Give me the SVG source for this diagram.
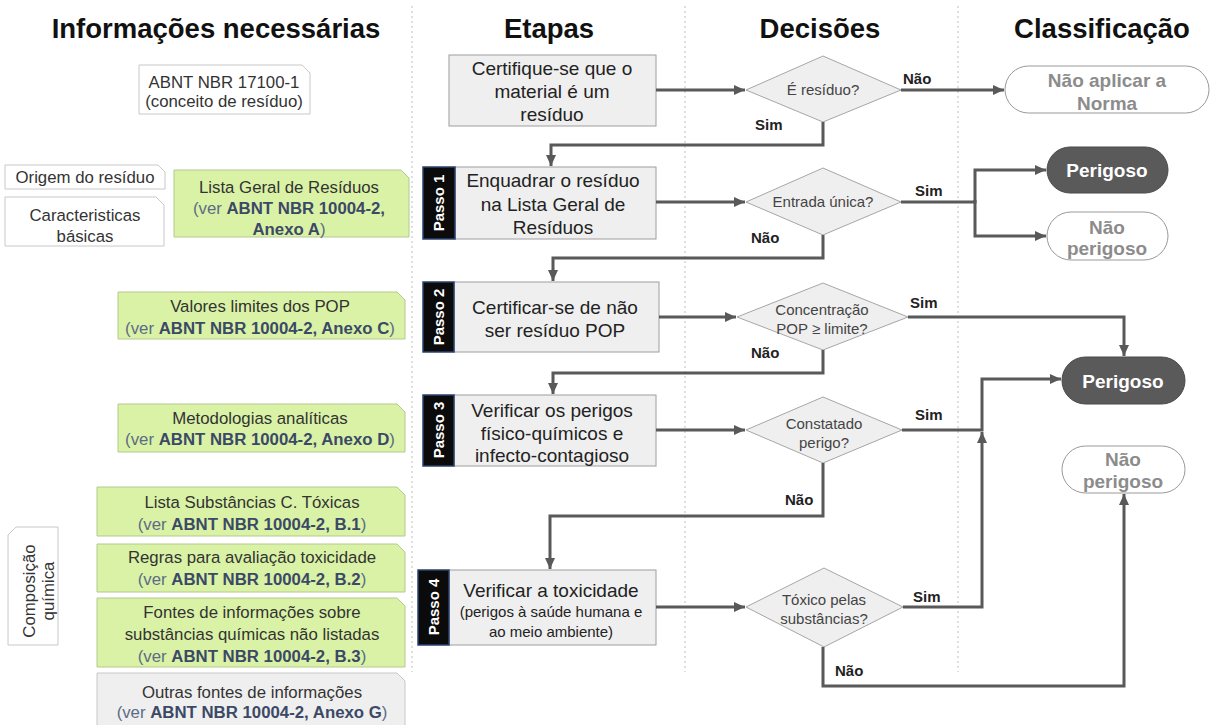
<svg xmlns="http://www.w3.org/2000/svg" width="1214" height="725" viewBox="0 0 1214 725">
<style>
text{font-family:"Liberation Sans",Arial,sans-serif}
.hdr{font-size:27.5px;font-weight:bold;fill:#111;text-anchor:middle}
.lt{font-size:16.8px;fill:#333;text-anchor:middle}
.ref{fill:#5d6b85}
.refb{font-weight:bold;fill:#3c4966}
.st{font-size:19px;fill:#222;text-anchor:middle}
.sts{font-size:15px;fill:#222;text-anchor:middle}
.dt{font-size:15px;fill:#444;text-anchor:middle}
.lbl{font-size:15px;font-weight:bold;fill:#222}
.cls{font-size:19px;font-weight:bold;fill:#8c8c8c;text-anchor:middle}
.clsw{font-size:19px;font-weight:bold;fill:#fff;text-anchor:middle}
.tabt{font-size:15px;font-weight:bold;fill:#fff;text-anchor:middle}
.conn{stroke:#595959;stroke-width:3;fill:none}
.bg{fill:#d9f2a6;stroke:#b4c88f;stroke-width:1}
.bw{fill:#fff;stroke:#c8c8c8;stroke-width:1}
.bgr{fill:#efefef;stroke:#c8c8c8;stroke-width:1}
.step{fill:#efefef;stroke:#9e9e9e;stroke-width:1}
.tab{fill:#0b0b0b;stroke:#2b4370;stroke-width:1.5}
.dia{fill:#efefef;stroke:#a6a6a6;stroke-width:1}
.pill{fill:#fff;stroke:#999;stroke-width:1}
.pilld{fill:#5a5a5a;stroke:#4a4a4a;stroke-width:1}
.div{stroke:#bdbdbd;stroke-width:1;stroke-dasharray:2 3}
</style>
<defs>
<marker id="ah" markerUnits="userSpaceOnUse" markerWidth="11" markerHeight="10" refX="11" refY="5" orient="auto">
<path d="M0,0 L11,5 L0,10 Z" fill="#595959"/>
</marker>
</defs>

<g id="dividers">
<line class="div" x1="412" y1="6" x2="412" y2="672"/>
<line class="div" x1="685" y1="6" x2="685" y2="672"/>
<line class="div" x1="958" y1="6" x2="958" y2="672"/>
</g>

<g id="headers">
<text class="hdr" x="216" y="38">Informações necessárias</text>
<text class="hdr" x="549" y="38">Etapas</text>
<text class="hdr" x="820" y="38">Decisões</text>
<text class="hdr" x="1102" y="38">Classificação</text>
</g>

<!-- Left column -->
<g id="info-abnt17100">
<path class="bw" d="M139,65 H302 L310,73 V114 H139 Z"/>
<text class="lt" x="224" y="88">ABNT NBR 17100-1</text>
<text class="lt" x="224" y="107">(conceito de resíduo)</text>
</g>
<g id="info-origem">
<path class="bw" d="M5,165 H158 L165,172 V189 H5 Z"/>
<text class="lt" x="85" y="183">Origem do resíduo</text>
</g>
<g id="info-caract">
<path class="bw" d="M5,197 H156 L164,205 V246 H5 Z"/>
<text class="lt" x="85" y="221">Caracteristicas</text>
<text class="lt" x="85" y="242">básicas</text>
</g>
<g id="info-lista-geral">
<path class="bg" d="M174,170 H401 L409,178 V237 H174 Z"/>
<text class="lt" x="289" y="193">Lista Geral de Resíduos</text>
<text class="lt" x="289" y="214"><tspan class="ref">(ver </tspan><tspan class="refb">ABNT NBR 10004-2,</tspan></text>
<text class="lt" x="289" y="235"><tspan class="refb">Anexo A</tspan><tspan class="ref">)</tspan></text>
</g>
<g id="info-valores">
<path class="bg" d="M118,292 H397 L405,300 V339 H118 Z"/>
<text class="lt" x="260" y="312">Valores limites dos POP</text>
<text class="lt" x="260" y="334"><tspan class="ref">(ver </tspan><tspan class="refb">ABNT NBR 10004-2, Anexo C</tspan><tspan class="ref">)</tspan></text>
</g>
<g id="info-metodologias">
<path class="bg" d="M118,404 H397 L405,412 V452 H118 Z"/>
<text class="lt" x="260" y="424">Metodologias analíticas</text>
<text class="lt" x="260" y="445"><tspan class="ref">(ver </tspan><tspan class="refb">ABNT NBR 10004-2, Anexo D</tspan><tspan class="ref">)</tspan></text>
</g>
<g id="info-composicao">
<path class="bw" d="M16,527 H58 V645 H8 V535 Z"/>
<text class="lt" transform="translate(35,591) rotate(-90)" x="0" y="0">Composição</text>
<text class="lt" transform="translate(54,591) rotate(-90)" x="0" y="0">química</text>
</g>
<g id="info-lista-subst">
<path class="bg" d="M97,487 H397 L405,495 V536 H97 Z"/>
<text class="lt" x="252" y="508">Lista Substâncias C. Tóxicas</text>
<text class="lt" x="252" y="530"><tspan class="ref">(ver </tspan><tspan class="refb">ABNT NBR 10004-2, B.1</tspan><tspan class="ref">)</tspan></text>
</g>
<g id="info-regras">
<path class="bg" d="M97,544 H397 L405,552 V592 H97 Z"/>
<text class="lt" x="252" y="563">Regras para avaliação toxicidade</text>
<text class="lt" x="252" y="585"><tspan class="ref">(ver </tspan><tspan class="refb">ABNT NBR 10004-2, B.2</tspan><tspan class="ref">)</tspan></text>
</g>
<g id="info-fontes">
<path class="bg" d="M97,598 H397 L405,606 V667 H97 Z"/>
<text class="lt" x="252" y="618">Fontes de informações sobre</text>
<text class="lt" x="252" y="640">substâncias químicas não listadas</text>
<text class="lt" x="252" y="662"><tspan class="ref">(ver </tspan><tspan class="refb">ABNT NBR 10004-2, B.3</tspan><tspan class="ref">)</tspan></text>
</g>
<g id="info-outras">
<path class="bgr" d="M97,673 H397 L405,681 V726 H97 Z"/>
<text class="lt" x="252" y="698">Outras fontes de informações</text>
<text class="lt" x="252" y="718"><tspan class="ref">(ver </tspan><tspan class="refb">ABNT NBR 10004-2, Anexo G</tspan><tspan class="ref">)</tspan></text>
</g>

<!-- Steps -->
<g id="step-0">
<rect class="step" x="449" y="55" width="207" height="71"/>
<text class="st" x="552" y="75">Certifique-se que o</text>
<text class="st" x="552" y="98">material é um</text>
<text class="st" x="552" y="121">resíduo</text>
</g>
<g id="step-1">
<rect class="step" x="455" y="167" width="201" height="72"/>
<rect class="tab" x="423" y="167" width="32" height="72"/>
<text class="tabt" transform="translate(444,203) rotate(-90)">Passo 1</text>
<text class="st" x="553" y="187">Enquadrar o resíduo</text>
<text class="st" x="553" y="211">na Lista Geral de</text>
<text class="st" x="553" y="234">Resíduos</text>
</g>
<g id="step-2">
<rect class="step" x="454" y="282" width="205" height="70"/>
<rect class="tab" x="423" y="282" width="31" height="70"/>
<text class="tabt" transform="translate(444,317) rotate(-90)">Passo 2</text>
<text class="st" x="555" y="314">Certificar-se de não</text>
<text class="st" x="555" y="337">ser resíduo POP</text>
</g>
<g id="step-3">
<rect class="step" x="454" y="395" width="202" height="71"/>
<rect class="tab" x="423" y="395" width="31" height="71"/>
<text class="tabt" transform="translate(444,430) rotate(-90)">Passo 3</text>
<text class="st" x="552" y="417">Verificar os perigos</text>
<text class="st" x="552" y="440">físico-químicos e</text>
<text class="st" x="552" y="462">infecto-contagioso</text>
</g>
<g id="step-4">
<rect class="step" x="449" y="570" width="207" height="75"/>
<rect class="tab" x="418" y="570" width="31" height="75"/>
<text class="tabt" transform="translate(439,607) rotate(-90)">Passo 4</text>
<text class="st" x="551" y="597">Verificar a toxicidade</text>
<text class="sts" x="551" y="617">(perigos à saúde humana e</text>
<text class="sts" x="551" y="637">ao meio ambiente)</text>
</g>

<!-- Decisions -->
<g id="dec-residuo">
<polygon class="dia" points="746,90 823,56 901,90 823,122"/>
<text class="dt" x="823" y="95">É resíduo?</text>
</g>
<g id="dec-entrada">
<polygon class="dia" points="746,202 823,168 901,202 823,235"/>
<text class="dt" x="823" y="207">Entrada única?</text>
</g>
<g id="dec-pop">
<polygon class="dia" points="737,317 823,283 908,317 823,350"/>
<text class="dt" x="822" y="315">Concentração</text>
<text class="dt" x="822" y="334">POP ≥ limite?</text>
</g>
<g id="dec-perigo">
<polygon class="dia" points="746,430 823,397 902,430 823,463"/>
<text class="dt" x="824" y="429">Constatado</text>
<text class="dt" x="824" y="448">perigo?</text>
</g>
<g id="dec-toxico">
<polygon class="dia" points="746,607 824,568 903,607 824,647"/>
<text class="dt" x="824" y="605">Tóxico pelas</text>
<text class="dt" x="824" y="624">substâncias?</text>
</g>

<!-- Classification -->
<g id="cls-nao-aplicar">
<rect class="pill" x="1005" y="66" width="204" height="47" rx="23.5"/>
<text class="cls" x="1107" y="87">Não aplicar a</text>
<text class="cls" x="1107" y="110">Norma</text>
</g>
<g id="cls-perigoso-1">
<rect class="pilld" x="1047" y="147" width="121" height="46" rx="23"/>
<text class="clsw" x="1107" y="177">Perigoso</text>
</g>
<g id="cls-nao-perigoso-1">
<rect class="pill" x="1047" y="212" width="121" height="48" rx="24"/>
<text class="cls" x="1107" y="234">Não</text>
<text class="cls" x="1107" y="255">perigoso</text>
</g>
<g id="cls-perigoso-2">
<rect class="pilld" x="1062" y="357" width="123" height="47" rx="23.5"/>
<text class="clsw" x="1123" y="388">Perigoso</text>
</g>
<g id="cls-nao-perigoso-2">
<rect class="pill" x="1062" y="446" width="123" height="47" rx="23.5"/>
<text class="cls" x="1123" y="466">Não</text>
<text class="cls" x="1123" y="488">perigoso</text>
</g>

<!-- Connectors -->
<g id="connectors">
<path class="conn" d="M656,90 H745" marker-end="url(#ah)"/>
<path class="conn" d="M901,90 H1004" marker-end="url(#ah)"/>
<path class="conn" d="M823,122 V145 H551 V166" marker-end="url(#ah)"/>
<path class="conn" d="M656,202 H745" marker-end="url(#ah)"/>
<path class="conn" d="M901,202 H975 V170 H1046" marker-end="url(#ah)"/>
<path class="conn" d="M975,200 V236 H1046" marker-end="url(#ah)"/>
<path class="conn" d="M823,235 V258 H553 V281" marker-end="url(#ah)"/>
<path class="conn" d="M659,317 H736" marker-end="url(#ah)"/>
<path class="conn" d="M908,317 H1124 V356" marker-end="url(#ah)"/>
<path class="conn" d="M823,350 V373 H553 V394" marker-end="url(#ah)"/>
<path class="conn" d="M656,430 H745" marker-end="url(#ah)"/>
<path class="conn" d="M902,430 H982 V379 H1061" marker-end="url(#ah)"/>
<path class="conn" d="M823,463 V516 H550 V569" marker-end="url(#ah)"/>
<path class="conn" d="M656,607 H745" marker-end="url(#ah)"/>
<path class="conn" d="M903,607 H982 V432" marker-end="url(#ah)"/>
<path class="conn" d="M823,647 V686 H1124 V494" marker-end="url(#ah)"/>
<text class="lbl" x="903" y="84">Não</text>
<text class="lbl" x="755" y="130">Sim</text>
<text class="lbl" x="915" y="196">Sim</text>
<text class="lbl" x="751" y="243">Não</text>
<text class="lbl" x="910" y="308">Sim</text>
<text class="lbl" x="751" y="358">Não</text>
<text class="lbl" x="915" y="420">Sim</text>
<text class="lbl" x="785" y="505">Não</text>
<text class="lbl" x="913" y="602">Sim</text>
<text class="lbl" x="835" y="676">Não</text>
</g>
</svg>
